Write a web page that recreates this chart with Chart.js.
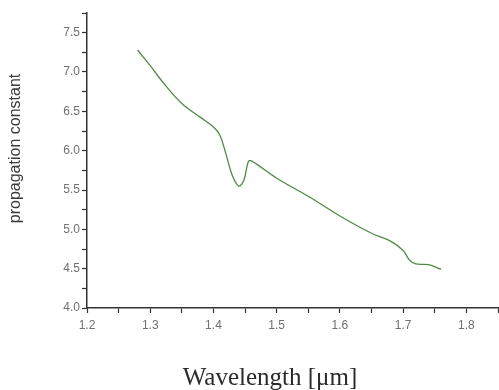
<!DOCTYPE html>
<html>
<head>
<meta charset="utf-8">
<script src="https://cdn.jsdelivr.net/npm/chart.js@4.4.1/dist/chart.umd.min.js"></script>
<style>
  html, body { margin: 0; padding: 0; background: #fff; }
  #wrap { width: 499px; height: 390px; position: relative; }
</style>
</head>
<body>
<div id="wrap"><canvas id="waveChart"></canvas></div>
<script>
// Data
const wavelengths = [1.28, 1.30, 1.32, 1.35, 1.38, 1.40, 1.41, 1.42, 1.43, 1.44, 1.448, 1.455, 1.46, 1.50, 1.55, 1.60, 1.65, 1.68, 1.70, 1.71, 1.72, 1.74, 1.76];
const propConst = [7.28, 7.08, 6.87, 6.60, 6.42, 6.30, 6.20, 5.95, 5.68, 5.55, 5.62, 5.86, 5.87, 5.65, 5.42, 5.17, 4.95, 4.85, 4.73, 4.61, 4.56, 4.55, 4.49];

const xMin = 1.2, xMax = 1.85, xStep = 0.05;
const yMin = 4.0, yMax = 7.75, yStep = 0.25;

const xTitle = 'Wavelength [μm]';
const yTitle = 'propagation constant';

const points = wavelengths.map((w, i) => ({ x: w, y: propConst[i] }));

function isMajor(v, stepHundredths) {
    return Math.round(v * 100) % stepHundredths === 0;
}

// Axis titles drawn by hand - the originals are not centred on the plot area
const axisTitles = {
    id: 'axisTitles',
    afterDraw(chart) {
        const { ctx, chartArea } = chart;
        const midY = (chartArea.top + chartArea.bottom) / 2;
        ctx.save();
        ctx.fillStyle = '#3a3a3a';
        ctx.textAlign = 'center';
        ctx.textBaseline = 'middle';

        ctx.translate(16, midY - 12);
        ctx.rotate(-Math.PI / 2);
        ctx.font = '16px "Liberation Sans"';
        ctx.fillText(yTitle, 0, 0);
        ctx.restore();

        ctx.save();
        ctx.fillStyle = '#2a2a2a';
        ctx.textAlign = 'center';
        ctx.textBaseline = 'middle';
        ctx.font = '25px "Liberation Serif"';
        ctx.fillText(xTitle, chartArea.left + 183, chartArea.bottom + 70);
        ctx.restore();
    }
};

document.addEventListener('DOMContentLoaded', function() {
    const ctx = document.getElementById('waveChart').getContext('2d');
    new Chart(ctx, {
        type: 'line',
        data: {
            datasets: [{
                data: points,
                borderColor: '#4f8a45',
                borderWidth: 1.3,
                pointRadius: 0,
                tension: 0.35,
                fill: false
            }]
        },
        options: {
            responsive: true,
            maintainAspectRatio: false,
            animation: false,
            layout: { padding: { top: 13, right: 1, bottom: 0, left: 0 } },
            plugins: { legend: { display: false }, tooltip: { enabled: false } },
            scales: {
                x: {
                    type: 'linear',
                    min: xMin,
                    max: xMax,
                    afterFit: function(scale) {
                        scale.height = 82;
                        scale.paddingRight = 0;
                    },
                    ticks: {
                        stepSize: xStep,
                        autoSkip: false,
                        maxRotation: 0,
                        color: '#707070',
                        font: { family: 'Liberation Sans', size: 12 },
                        padding: 5,
                        callback: function(v) { return isMajor(v, 10) ? v.toFixed(1) : ''; }
                    },
                    grid: {
                        drawOnChartArea: false,
                        tickLength: 5,
                        tickColor: '#333',
                        tickWidth: 1.2
                    },
                    border: { color: '#333', width: 1.5 }
                },
                y: {
                    min: yMin,
                    max: yMax,
                    afterFit: function(scale) { scale.width = 87; },
                    ticks: {
                        stepSize: yStep,
                        autoSkip: false,
                        color: '#707070',
                        font: { family: 'Liberation Sans', size: 12 },
                        padding: 2,
                        callback: function(v) { return isMajor(v, 50) ? v.toFixed(1) : ''; }
                    },
                    grid: {
                        drawOnChartArea: false,
                        tickLength: 5,
                        tickColor: '#333',
                        tickWidth: 1.2
                    },
                    border: { color: '#333', width: 1.5 }
                }
            }
        },
        plugins: [axisTitles]
    });
});
</script>
</body>
</html>
